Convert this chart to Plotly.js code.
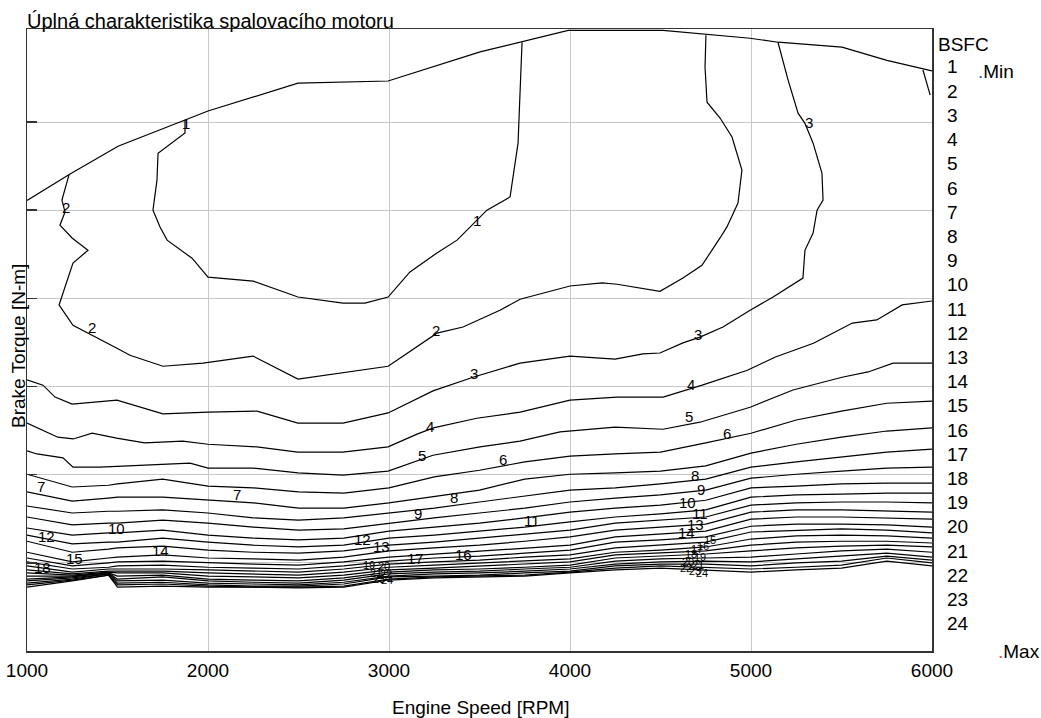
<!DOCTYPE html>
<html>
<head>
<meta charset="utf-8">
<script src="https://cdn.plot.ly/plotly-3.0.1.min.js"></script>
<style>html,body{margin:0;padding:0;background:#fff;}#chart{width:1041px;height:718px;}</style>
</head>
<body>
<div id="chart"></div>
<script>
// ---- Data (engine speed [RPM], brake torque [N-m]) ----
const rpmWOT    = [1000,1238,1503,2000,2497,2995,3503,3724,3990,4514,4746,4995,5149,5503,5751,6000];
const torqueWOT = [102.2,108.2,114.5,122.5,128.8,129.3,135.9,138.1,140.8,140.8,139.9,139.0,138.1,137.0,134.0,131.6];

const rpmC1    = [1873,1873,1724,1718,1696,1735,1774,1912,2000,2249,2497,2746,2867,2995,3116,3265,3376,3541,3669,3713,3735];
const torqueC1 = [120.4,117.5,112.9,106.8,100.0,96.2,93.2,89.1,84.8,83.9,80.3,78.9,78.9,80.3,86.0,90.3,93.2,100.0,103.0,115.2,138.1];

const rpmC2    = [1232,1193,1210,1182,1249,1337,1254,1177,1254,1359,1497,1569,1751,1972,2249,2497,2746,2995,3265,3409,3613,3724,4000,4177,4260,4497,4624,4729,4829,4867,4928,4950,4895,4829,4757,4746,4751];
const torqueC2 = [108.0,102.3,99.6,96.6,93.7,90.9,88.0,78.5,73.9,71.7,68.7,67.1,64.6,65.3,66.9,61.7,63.1,64.6,72.1,73.5,77.3,79.8,82.8,83.5,83.2,81.6,84.6,87.5,93.7,96.2,101.6,109.1,116.6,120.9,124.5,132.5,139.7];

const rpmC3    = [5149,5205,5260,5298,5343,5392,5398,5365,5343,5326,5298,5287,5122,4995,4845,4718,4624,4497,4403,4249,4000,3724,3464,3243,2995,2746,2497,2271,2000,1751,1497,1249,1155,1088,1000];
const torqueC3 = [138.1,129.5,122.0,119.7,115.2,108.4,102.3,100.0,94.8,93.2,90.9,84.6,80.3,77.3,73.5,71.2,69.9,67.6,67.4,66.2,66.9,65.3,62.1,59.0,54.0,51.7,51.7,54.4,54.2,53.8,56.9,56.0,57.6,60.3,61.5];

const rpmEdge    = [5950,5990];
const torqueEdge = [131.8,126.1];

const rpmC4    = [1000,1170,1255,1360,1495,1650,1860,2000,2270,2495,2745,2995,3155,3245,3485,3725,4000,4260,4515,4730,4980,5135,5345,5560,5695,5835,6000];
const torqueC4 = [51.7,48.5,48.1,49.4,48.3,47.2,47.6,46.9,46.3,45.1,45.1,46.3,49.2,50.6,52.8,54.2,56.9,57.6,57.6,60.3,63.7,66.7,69.8,74.4,75.1,78.5,79.4];

const rpmC5    = [1000,1055,1199,1254,1403,1901,2000,2249,2497,2746,2995,3171,3243,3503,3724,3945,4249,4514,4718,4995,5232,5503,5647,5785,6000];
const torqueC5 = [45.4,44.7,43.8,41.7,41.7,42.6,41.5,41.5,40.4,39.9,40.8,43.3,44.4,46.3,47.6,49.7,50.8,50.3,51.9,55.3,59.2,62.1,63.3,65.3,65.3];

// lower contours, all read at the same speeds
const rpmGrid = [1000,1250,1450,1500,1750,2000,2250,2500,2750,3000,3250,3500,3750,4000,4250,4500,4750,5000,5250,5500,5750,6000];
const tq6  = [40.1,37.2,37.6,37.9,39.0,37.4,37.0,36.1,35.8,37.0,39.5,41.0,42.9,44.2,44.7,45.1,47.2,49.4,52.4,54.4,56.2,56.7];
const tq7  = [36.1,34.0,34.7,34.9,34.9,34.2,33.6,32.4,32.4,33.6,35.1,36.5,39.0,40.1,40.4,40.8,42.0,44.9,46.9,48.5,49.9,50.6];
const tq8  = [32.9,31.3,31.7,31.7,32.0,31.3,30.2,29.7,30.2,31.3,32.4,33.8,35.1,36.5,37.0,37.9,39.0,41.7,42.9,44.0,45.1,45.8];
const tq9  = [30.4,28.6,29.0,29.0,29.7,29.0,28.1,27.4,27.7,29.0,30.2,31.3,32.4,33.8,34.7,35.4,36.5,39.2,40.1,40.8,41.5,41.7];
const tq10 = [27.9,26.3,26.8,26.8,27.4,26.3,25.6,25.2,25.6,27.2,28.1,29.0,30.2,31.5,32.4,33.1,34.2,37.0,37.4,37.9,38.1,38.1];
const tq11 = [26.3,24.3,24.7,24.7,25.6,24.7,24.0,23.6,24.0,25.6,26.3,27.2,28.1,29.3,30.4,31.1,32.0,34.9,35.4,35.6,35.8,35.8];
const tq12 = [24.9,22.4,23.1,23.4,23.8,22.9,22.4,22.2,22.7,24.0,24.7,25.6,26.5,27.4,29.0,29.7,30.4,33.1,33.6,33.8,33.8,33.6];
const tq13 = [22.4,20.2,21.1,21.3,21.8,21.1,20.9,20.6,21.3,22.7,23.4,24.0,24.9,25.9,27.4,28.1,28.8,31.5,32.0,32.0,31.7,31.5];
const tq14 = [21.1,19.3,20.0,20.2,20.4,20.0,19.7,19.5,20.2,21.3,22.0,22.7,23.4,24.0,25.9,26.5,27.2,29.9,30.4,30.4,30.2,29.9];
const tq15 = [20.2,18.6,19.0,19.3,19.5,19.0,18.8,18.6,19.3,20.4,21.1,21.5,22.2,22.9,24.7,25.2,25.9,28.3,28.8,28.8,28.6,28.1];
const tq16 = [19.3,17.9,18.6,18.6,18.6,18.4,18.1,17.9,18.6,19.7,20.2,20.6,21.3,21.8,23.4,24.0,24.7,27.0,27.4,27.7,27.4,26.8];
const tq17 = [18.4,17.5,18.1,18.1,18.1,17.7,17.5,17.2,17.9,19.0,19.5,20.0,20.4,20.9,22.4,22.9,23.6,25.4,26.1,26.3,26.1,25.6];
const tq18 = [17.7,17.2,17.9,17.7,17.7,17.0,16.8,16.6,17.2,18.4,18.8,19.3,19.7,20.2,21.8,22.2,22.7,24.0,24.7,24.9,24.9,24.5];
const tq19 = [17.0,17.0,17.7,17.0,17.2,16.3,16.1,15.9,16.6,17.9,18.4,18.6,19.0,19.5,21.1,21.5,22.0,22.7,23.4,23.8,24.0,23.6];
const tq20 = [16.3,16.8,17.7,16.3,16.8,15.9,15.6,15.4,16.1,17.5,17.9,18.1,18.6,19.0,20.4,20.9,21.1,21.3,22.0,22.7,23.1,22.4];
const tq21 = [15.9,16.6,17.5,15.9,16.1,15.4,15.2,15.0,15.6,17.0,17.5,17.7,18.1,18.6,19.7,20.2,20.4,20.2,20.9,21.5,22.2,21.3];
const tq22 = [15.4,16.3,17.5,15.4,15.6,15.0,14.7,14.7,15.2,16.8,17.0,17.2,17.7,18.1,19.3,19.7,19.7,19.3,20.0,20.4,21.5,20.6];
const tq23 = [15.0,16.1,17.2,15.0,15.2,14.7,14.5,14.5,14.7,16.3,16.8,17.0,17.2,17.9,18.8,19.3,19.0,18.6,19.0,19.5,21.1,20.0];
const tq24 = [14.5,15.9,17.2,14.5,14.7,14.5,14.5,14.3,14.5,16.1,16.6,16.8,17.0,17.7,18.4,18.8,18.4,17.9,18.4,18.8,20.4,19.3];

// contour labels (the well separated ones)
const labelText   = ["1","1","2","2","2","3","3","3","4","4","5","5","6","6","7","7","8","8","9","9","10","10","11","11","12","12","13","13","14","14","15","16","17","18"];
const labelRpm    = [1878,3486,1215,1359,3260,5321,4707,3470,3227,4669,3182,4658,3630,4868,1077,2160,3359,4691,3160,4724,1497,4647,3790,4718,1110,2856,2961,4695,1735,4641,1260,3409,3144,1088];
const labelTorque = [119.7,97.7,100.5,73.5,72.6,120.0,71.7,63.0,51.0,60.5,44.4,53.3,43.5,49.4,37.4,35.6,34.9,39.7,31.1,36.7,27.9,33.8,29.7,31.3,25.9,25.2,23.6,28.6,22.7,26.8,20.9,21.8,20.9,19.0];
// crowded labels where the contours bunch together
const crowdText   = ["19","20","21","22","23","24","15","16","17","18","19","20","21","22","23","24"];
const crowdRpm    = [2890,2975,2930,2985,2945,2990,4775,4735,4700,4668,4720,4650,4705,4640,4690,4730];
const crowdTorque = [19.5,19.2,17.8,17.4,16.4,16.0,25.2,23.9,23.2,22.0,21.3,20.3,19.6,18.9,18.2,17.6];

// legend
const bsfcLevels = [1,2,3,4,5,6,7,8,9,10,11,12,13,14,15,16,17,18,19,20,21,22,23,24];
const yTicks = [20,40,60,80,100,120];
const xTicks = [1000,2000,3000,4000,5000,6000];

// ---- traces ----
function line(x, y) {
  return {type:'scatter', mode:'lines', x:x, y:y, line:{color:'#000', width:1.2},
          hoverinfo:'skip', showlegend:false, cliponaxis:true};
}
const traces = [
  line(rpmWOT, torqueWOT), line(rpmC1, torqueC1), line(rpmC2, torqueC2), line(rpmC3, torqueC3),
  line(rpmEdge, torqueEdge), line(rpmC4, torqueC4), line(rpmC5, torqueC5)
];
[tq6,tq7,tq8,tq9,tq10,tq11,tq12,tq13,tq14,tq15,tq16,tq17,tq18,tq19,tq20,tq21,tq22,tq23,tq24]
  .forEach(t => traces.push(line(rpmGrid, t)));

const FONT = 'Liberation Sans, Arial, Helvetica, sans-serif';
const annotations = [];
labelText.forEach((t, i) => annotations.push({
  x: labelRpm[i], y: labelTorque[i], xref:'x', yref:'y', text:t, showarrow:false,
  font:{family:FONT, size:15, color:'#000'}, xanchor:'center', yanchor:'middle'
}));
crowdText.forEach((t, i) => annotations.push({
  x: crowdRpm[i], y: crowdTorque[i], xref:'x', yref:'y', text:t, showarrow:false,
  font:{family:FONT, size:11, color:'#000'}, xanchor:'center', yanchor:'middle'
}));

// layout geometry (pixels -> paper fractions)
const W = 1041, H = 718, L = 27, R = 932, T = 29, B = 651;
const px = v => (v - L) / (R - L);
const py = v => (B - v) / (B - T);

annotations.push({xref:'paper', yref:'paper', x:px(936), y:py(45), xanchor:'left', yanchor:'middle',
  text:'BSFC', showarrow:false, font:{family:FONT, size:19, color:'#000'}});
bsfcLevels.forEach((lv, i) => annotations.push({
  xref:'paper', yref:'paper', x:px(945), y:py(67 + i * 24.2), xanchor:'left', yanchor:'middle',
  text:String(lv), showarrow:false, font:{family:FONT, size:19, color:'#000'}
}));
annotations.push({xref:'paper', yref:'paper', x:px(976), y:py(72), xanchor:'left', yanchor:'middle',
  text:'<span style="color:#3050d0">.</span>Min', showarrow:false, font:{family:FONT, size:19, color:'#000'}});
annotations.push({xref:'paper', yref:'paper', x:px(996), y:py(651), xanchor:'left', yanchor:'middle',
  text:'<span style="color:#e05050">.</span>Max', showarrow:false, font:{family:FONT, size:19, color:'#000'}});
annotations.push({xref:'paper', yref:'paper', x:px(480), y:py(707), xanchor:'center', yanchor:'middle',
  text:'Engine Speed [RPM]', showarrow:false, font:{family:FONT, size:19, color:'#000'}});
annotations.push({xref:'paper', yref:'paper', x:px(18), y:py(346), xanchor:'center', yanchor:'middle',
  text:'Brake Torque [N-m]', textangle:-90, showarrow:false, font:{family:FONT, size:19, color:'#000'}});

const layout = {
  width: W, height: H,
  margin: {l: L, r: W - R, t: T, b: H - B, pad: 0},
  paper_bgcolor: '#fff', plot_bgcolor: '#fff',
  font: {family: FONT, size: 19, color: '#000'},
  title: {text: 'Úplná charakteristika spalovacího motoru', xref: 'paper', x: 0, xanchor: 'left',
          yref: 'container', y: 1 - 21 / H, yanchor: 'middle', font: {family: FONT, size: 20, color: '#000'}},
  showlegend: false,
  xaxis: {range: [1000, 6000], tickvals: xTicks, ticktext: xTicks.map(String), ticks: '',
          showgrid: true, gridcolor: '#c8c8c8', gridwidth: 1, zeroline: false,
          showline: true, mirror: true, linecolor: '#333', linewidth: 1.5,
          tickfont: {family: FONT, size: 19, color: '#000'}, ticklabelstandoff: 2, fixedrange: true},
  yaxis: {range: [0, 141.1], tickvals: yTicks, showticklabels: false, ticks: 'inside', ticklen: 10,
          tickcolor: '#333', tickwidth: 1.5,
          showgrid: true, gridcolor: '#c8c8c8', gridwidth: 1, zeroline: false,
          showline: true, mirror: true, linecolor: '#333', linewidth: 1.5, fixedrange: true},
  annotations: annotations
};

Plotly.newPlot('chart', traces, layout, {displayModeBar: false, staticPlot: true});
</script>
</body>
</html>
